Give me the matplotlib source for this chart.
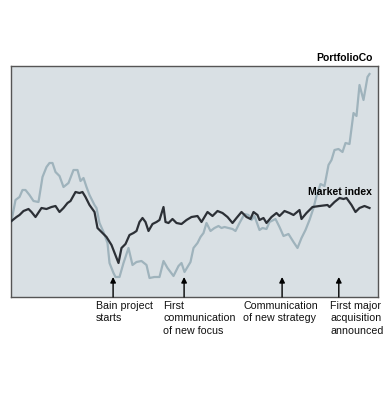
import matplotlib.pyplot as plt

plt.rcParams['font.family'] = ['Liberation Sans', 'DejaVu Sans']

# 数据 (横轴: 时间刻度, 纵轴: 指数水平) —— 每行 10 个点
market_t = [1, 6, 9, 13, 18, 21, 25, 31, 36, 41,
            45, 49, 53, 57, 60, 65, 69, 72, 75, 79,
            84, 87, 91, 96, 101, 108, 111, 115, 119, 123,
            126, 129, 132, 135, 138, 142, 146, 149, 153, 155,
            158, 162, 166, 171, 176, 181, 187, 191, 197, 202,
            207, 212, 217, 222, 226, 231, 236, 240, 243, 247,
            249, 253, 256, 261, 266, 269, 274, 279, 283, 289,
            291, 296, 302, 309, 317, 319, 324, 329, 333, 336,
            341, 345, 349, 354, 359]
market_v = [76, 80, 82, 86, 88, 85, 80, 89, 88, 90,
            91, 85, 89, 94, 96, 105, 104, 105, 100, 92,
            85, 69, 65, 60, 52, 34, 49, 53, 62, 64,
            66, 75, 79, 75, 66, 73, 75, 77, 90, 75,
            74, 78, 74, 73, 77, 80, 81, 75, 85, 81,
            86, 84, 80, 74, 79, 85, 80, 78, 85, 82,
            77, 79, 74, 80, 84, 81, 86, 84, 82, 87,
            78, 84, 90, 91, 92, 90, 95, 99, 98, 99,
            92, 85, 89, 91, 89]

portfolio_t = [1, 5, 9, 12, 15, 19, 23, 28, 32, 36,
               39, 42, 45, 49, 53, 58, 63, 67, 70, 73,
               76, 79, 84, 86, 89, 93, 97, 99, 103, 105,
               109, 113, 118, 122, 126, 131, 136, 139, 144, 149,
               153, 157, 163, 168, 171, 174, 180, 183, 187, 190,
               193, 196, 200, 204, 208, 211, 214, 218, 222, 225,
               229, 234, 238, 241, 244, 249, 252, 256, 259, 265,
               269, 273, 278, 283, 287, 291, 295, 299, 303, 306,
               310, 314, 318, 321, 324, 328, 332, 335, 339, 343,
               346, 349, 353, 357, 359]
portfolio_v = [76, 97, 100, 107, 107, 102, 96, 95, 120, 130,
               134, 134, 125, 121, 110, 114, 127, 127, 116, 119,
               110, 102, 92, 89, 74, 65, 54, 34, 24, 20,
               20, 34, 49, 32, 35, 36, 32, 19, 20, 20,
               36, 29, 21, 31, 34, 25, 35, 49, 54, 60,
               64, 74, 66, 69, 71, 69, 70, 69, 68, 66,
               74, 83, 82, 77, 81, 67, 69, 68, 75, 78,
               70, 61, 63, 55, 49, 59, 67, 77, 89, 101,
               113, 111, 132, 137, 147, 148, 145, 154, 153, 184,
               181, 212, 197, 220, 223]

events_t = [102.6, 173.6, 271.6, 328.3]
events_txt = ['Bain project\nstarts', 'First\ncommunication\nof new focus',
              'Communication\nof new strategy', 'First major\nacquisition\nannounced']
text_t = [85, 152.6, 232.6, 320]

fig = plt.figure(figsize=(3.88, 4.0), dpi=100, facecolor='white')
ax = fig.add_axes([10.5 / 388, 1 - 297 / 400, 367 / 388, 231 / 400])
ax.set_facecolor('#d9e0e4')

ax.plot(portfolio_t, portfolio_v, color='#9fb3bc', lw=1.6, zorder=2)
ax.plot(market_t, market_v, color='#2c3036', lw=1.6, zorder=3)

ax.set_xlim(0, 367)
ax.set_ylim(0, 231)
ax.set_xticks([])
ax.set_yticks([])
for s in ax.spines.values():
    s.set_color('#555555')
    s.set_linewidth(1.0)

for t in events_t:
    ax.annotate('', xy=(t, 20), xytext=(t, 0),
                arrowprops=dict(arrowstyle='-|>', color='black', lw=1.0,
                                mutation_scale=8, shrinkA=0, shrinkB=0))

for t, s in zip(text_t, events_txt):
    ax.text(t, -4, s, ha='left', va='top', fontsize=7.7, linespacing=1.3,
            color='#111111', clip_on=False)

ax.text(362, 239, 'PortfolioCo', ha='right', va='center', fontsize=7.5,
        fontweight='bold', clip_on=False)
ax.text(361, 105, 'Market index', ha='right', va='center', fontsize=7.5,
        fontweight='bold')

fig.savefig('out.png', dpi=100)
